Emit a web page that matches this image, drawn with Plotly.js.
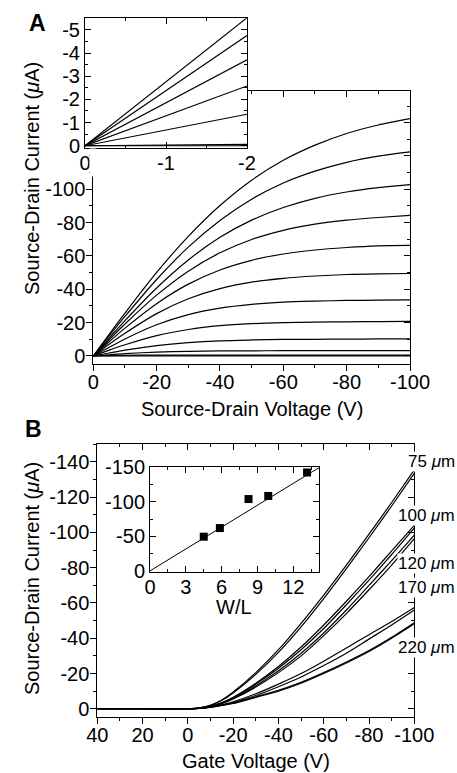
<!DOCTYPE html>
<html><head><meta charset="utf-8">
<script src="https://cdn.plot.ly/plotly-3.0.1.min.js"></script>
<style>html,body{margin:0;padding:0;background:#fff}#chart{width:457px;height:773px}</style>
</head><body><div id="chart"></div>
<script>
// ---------- Panel A: output characteristics ----------
const vdsMain = [0, -5, -10, -20, -30, -40, -50, -60, -70, -80, -90, -100];
const idsA1 = [0, -13.0, -25.7, -50.1, -71.8, -90.3, -105.5, -117.4, -126.5, -133.5, -138.6, -142.4];
const idsA2 = [0, -12.0, -23.7, -45.9, -65.3, -81.3, -94.1, -103.8, -110.9, -116.2, -119.9, -122.5];
const idsA3 = [0, -10.7, -21.2, -40.8, -57.6, -71.2, -81.5, -89.1, -94.6, -98.4, -101.0, -102.8];
const idsA4 = [0, -9.7, -19.2, -36.5, -50.9, -61.9, -69.9, -75.4, -79.1, -81.5, -83.1, -84.4];
const idsA5 = [0, -8.5, -16.7, -31.4, -43.1, -51.6, -57.4, -61.2, -63.6, -65.1, -66.1, -66.4];
const idsA6 = [0, -7.0, -13.6, -25.4, -34.3, -40.4, -44.3, -46.6, -48.0, -48.9, -49.3, -49.5];
const idsA7 = [0, -5.2, -10.2, -18.7, -24.8, -28.7, -31.0, -32.3, -32.9, -33.3, -33.5, -33.7];
const idsA8 = [0, -3.5, -6.7, -12.2, -15.9, -18.2, -19.4, -20.0, -20.3, -20.5, -20.6, -20.7];
const idsA9 = [0, -1.8, -3.5, -6.2, -8.0, -9.1, -9.6, -9.9, -10.0, -10.1, -10.2, -10.2];
const idsA10 = [0, -0.7, -1.4, -2.3, -2.8, -3.0, -3.1, -3.15, -3.2, -3.2, -3.2, -3.2];
const idsA11 = [0, -0.25, -0.4, -0.5, -0.55, -0.55, -0.55, -0.5, -0.5, -0.5, -0.45, -0.45];
const idsA12 = [0, 0, 0, 0, 0, 0, 0, 0, 0, 0, 0, 0];

// inset A (low-voltage linear region)
const vdsInset = [0, -1, -2];
const insA1 = [0, -2.76, -5.52];
const insA2 = [0, -2.38, -4.76];
const insA3 = [0, -1.86, -3.71];
const insA4 = [0, -1.29, -2.58];
const insA5 = [0, -0.68, -1.36];
const insA6 = [0, -0.03, -0.06];
const insA7 = [0, 0, 0];

// ---------- Panel B: transfer characteristics ----------
const vgB = [40, 20, 0, -5, -10, -15, -20, -30, -40, -50, -60, -70, -80, -90, -100];
const idL75a = [0, 0, 0, -0.5, -2, -5, -9.5, -20.5, -33.5, -48.5, -64.5, -81.5, -99, -117, -135.5];
const idL75b = [0, 0, 0, -0.5, -2, -4.8, -9, -19.5, -32, -46.5, -62.5, -79.5, -97, -115, -133.5];
const idL100a = [0, 0, 0, -0.3, -1.5, -3.5, -6.5, -14.5, -24, -35, -47.5, -61, -75, -89.5, -104];
const idL100b = [0, 0, 0, -0.3, -1.4, -3.3, -6.2, -14, -23, -33.5, -45.5, -59, -73, -87.5, -102.5];
const idL120a = [0, 0, 0, -0.3, -1.3, -3.1, -5.8, -13, -21.5, -31.5, -43, -56, -70, -84, -98.5];
const idL120b = [0, 0, 0, -0.3, -1.2, -2.9, -5.5, -12.3, -20.5, -30, -41.5, -54, -67.5, -81.5, -96.5];
const idL170a = [0, 0, 0, -0.2, -1, -2.3, -4, -8.5, -14, -20, -27, -34.5, -42, -49.5, -57.5];
const idL170b = [0, 0, 0, -0.2, -0.9, -2.1, -3.5, -7.5, -12.5, -18, -24.5, -31.5, -39.5, -47.5, -56];
const idL220a = [0, 0, 0, -0.2, -0.9, -2, -3.2, -6.8, -10.5, -15, -20.5, -26.5, -33, -40.5, -48.8];
const idL220b = [0, 0, 0, -0.2, -0.8, -1.9, -3, -6.5, -10, -14.5, -20, -26, -32.5, -40, -48.2];
const lengthLabels = ['75 <i>μ</i>m', '100 <i>μ</i>m', '120 <i>μ</i>m', '170 <i>μ</i>m', '220 <i>μ</i>m'];

// inset B: saturation current vs W/L
const wlRatio = [4.5, 5.85, 8.25, 9.9, 13.15];
const idSat = [-49.5, -62, -104, -108.5, -142.5];
const wlFitX = [0, 14.2];
const wlFitY = [0, -150];

// ---------- tick labels ----------
const aXTicks = [0, -20, -40, -60, -80, -100];
const aXText = ['0', '-20', '-40', '-60', '-80', '-100'];
const aYTicks = [0, -20, -40, -60, -80, -100];
const aYText = ['0', '-20', '-40', '-60', '-80', '-100'];
const aInXTicks = [0, -1, -2];
const aInXText = ['0', '-1', '-2'];
const aInYTicks = [0, -1, -2, -3, -4, -5];
const aInYText = ['0', '-1', '-2', '-3', '-4', '-5'];
const bXTicks = [40, 20, 0, -20, -40, -60, -80, -100];
const bXText = ['40', '20', '0', '-20', '-40', '-60', '-80', '-100'];
const bYTicks = [0, -20, -40, -60, -80, -100, -120, -140];
const bYText = ['0', '-20', '-40', '-60', '-80', '-100', '-120', '-140'];
const bInXTicks = [0, 3, 6, 9, 12];
const bInXText = ['0', '3', '6', '9', '12'];
const bInYTicks = [0, -50, -100, -150];
const bInYText = ['0', '-50', '-100', '-150'];

// ---------- build ----------
const FONT = 'Liberation Sans, Arial, Helvetica, sans-serif';
const W = 457, H = 773;
const px = x => x / W;
const py = y => 1 - y / H;
const LW = 1.2;

const traces = [];
[idsA1, idsA2, idsA3, idsA4, idsA5, idsA6, idsA7, idsA8, idsA9, idsA10, idsA11, idsA12].forEach(c => {
  traces.push({x: vdsMain, y: c, xaxis: 'x', yaxis: 'y', mode: 'lines',
    line: {color: '#000', width: LW, shape: 'spline', smoothing: 0.8}});
});
[insA1, insA2, insA3, insA4, insA5, insA6, insA7].forEach(c => {
  traces.push({x: vdsInset, y: c, xaxis: 'x2', yaxis: 'y2', mode: 'lines',
    line: {color: '#000', width: LW}});
});
[idL75a, idL75b, idL100a, idL100b, idL120a, idL120b, idL170a, idL170b, idL220a, idL220b].forEach(c => {
  traces.push({x: vgB, y: c, xaxis: 'x3', yaxis: 'y3', mode: 'lines',
    line: {color: '#000', width: LW, shape: 'spline', smoothing: 0.7}});
});
traces.push({x: wlFitX, y: wlFitY, xaxis: 'x4', yaxis: 'y4', mode: 'lines', line: {color: '#000', width: 1}});
traces.push({x: wlRatio, y: idSat, xaxis: 'x4', yaxis: 'y4', mode: 'markers', cliponaxis: false,
  marker: {symbol: 'square', size: 8, color: '#000'}});
// overlay subplots carrying inward mirror ticks
['5', '6', '7', '8'].forEach(n => traces.push({x: [], y: [], xaxis: 'x' + n, yaxis: 'y' + n, mode: 'lines', hoverinfo: 'skip'}));

const tickFont = {family: FONT, size: 20, color: '#000'};
function ax(domain, range, anchor, tv, tt, minorD, dir, standoff) {
  return {domain, range, anchor, tickmode: 'array', tickvals: tv, ticktext: tt,
    showline: true, mirror: true, linecolor: '#000', linewidth: 1,
    ticks: dir, ticklen: 6, tickwidth: 1, tickcolor: '#000',
    minor: {ticks: dir, tick0: 0, dtick: minorD, ticklen: 3, tickwidth: 1, tickcolor: '#000'},
    showgrid: false, zeroline: false, automargin: false, fixedrange: true,
    tickfont: tickFont, ticklabelstandoff: standoff};
}
function mirrorAx(over, side, range, anchor, majorD, minorD) {
  return {overlaying: over, side, range, anchor, tickmode: 'linear', tick0: 0, dtick: majorD,
    showline: false, showticklabels: false, ticks: 'inside', ticklen: 6, tickwidth: 1, tickcolor: '#000',
    minor: {ticks: 'inside', tick0: 0, dtick: minorD, ticklen: 3, tickwidth: 1, tickcolor: '#000'},
    showgrid: false, zeroline: false, automargin: false, fixedrange: true};
}

const dA = {x: [px(93.3), px(410)], y: [py(364.3), py(91)]};
const dAi = {x: [px(85), px(247)], y: [py(148.3), py(18.3)]};
const dB = {x: [px(97.3), px(414.3)], y: [py(716.7), py(444.3)]};
const dBi = {x: [px(150), px(319)], y: [py(571.7), py(467.3)]};

const rA = {x: [0, -100], y: [5, -159]};
const rAi = {x: [0, -2], y: [0.11, -5.5]};
const rB = {x: [40, -100], y: [4.5, -150]};
const rBi = {x: [0, 14.15], y: [1.2, -150]};

const titleFont = {family: FONT, size: 20, color: '#000'};
const ann = [];
function txt(x, y, text, extra) { ann.push(Object.assign({xref: 'paper', yref: 'paper', x: px(x), y: py(y), text, showarrow: false, font: titleFont, xanchor: 'center', yanchor: 'middle'}, extra || {})); }
// mask for the main-A frame under the inset's tick labels
ann.push({xref: 'paper', yref: 'paper', x: px(93.3), y: py(162.5), text: '\u00a0', showarrow: false, width: 6, height: 27, bgcolor: '#fff', borderpad: 0, xanchor: 'center', yanchor: 'middle'});
txt(37.5, 23.5, '<b>A</b>', {font: {family: FONT, size: 23, color: '#000'}});
txt(33.5, 429, '<b>B</b>', {font: {family: FONT, size: 23, color: '#000'}});
txt(32, 179, 'Source-Drain Current (<i>μ</i>A)', {textangle: -90});
txt(32, 579, 'Source-Drain Current (<i>μ</i>A)', {textangle: -90});
txt(252, 409, 'Source-Drain Voltage (V)');
txt(256, 761, 'Gate Voltage (V)');
txt(234, 606.5, 'W/L');
const labelY = [461.5, 515.5, 563, 587, 647.5];
lengthLabels.forEach((t, i) => txt(456, labelY[i], t, {xanchor: 'right', bgcolor: '#fff', borderpad: 0, font: {family: FONT, size: 17, color: '#000'}}));

const layout = {
  width: W, height: H, margin: {l: 0, r: 0, t: 0, b: 0},
  paper_bgcolor: '#fff', plot_bgcolor: '#fff', showlegend: false, hovermode: false,
  xaxis: ax(dA.x, rA.x, 'y', aXTicks, aXText, 10, 'outside', -6),
  yaxis: ax(dA.y, rA.y, 'x', aYTicks, aYText, 10, 'outside', -3),
  xaxis2: ax(dAi.x, rAi.x, 'y2', aInXTicks, aInXText, 0.5, 'inside', -3),
  yaxis2: ax(dAi.y, rAi.y, 'x2', aInYTicks, aInYText, 0.5, 'inside', 0),
  xaxis3: ax(dB.x, rB.x, 'y3', bXTicks, bXText, 10, 'outside', -6),
  yaxis3: ax(dB.y, rB.y, 'x3', bYTicks, bYText, 10, 'outside', -3),
  xaxis4: ax(dBi.x, rBi.x, 'y4', bInXTicks, bInXText, 1.5, 'inside', -3),
  yaxis4: ax(dBi.y, rBi.y, 'x4', bInYTicks, bInYText, 25, 'inside', 0),
  xaxis5: mirrorAx('x', 'top', rA.x, 'y', 20, 10),
  yaxis5: mirrorAx('y', 'right', rA.y, 'x', 20, 10),
  xaxis6: mirrorAx('x2', 'top', rAi.x, 'y2', 1, 0.5),
  yaxis6: mirrorAx('y2', 'right', rAi.y, 'x2', 1, 0.5),
  xaxis7: mirrorAx('x3', 'top', rB.x, 'y3', 20, 10),
  yaxis7: mirrorAx('y3', 'right', rB.y, 'x3', 20, 10),
  xaxis8: mirrorAx('x4', 'top', rBi.x, 'y4', 3, 1.5),
  yaxis8: mirrorAx('y4', 'right', rBi.y, 'x4', 50, 25),
  annotations: ann
};
Plotly.newPlot('chart', traces, layout, {staticPlot: true, displayModeBar: false});
</script>
</body></html>
